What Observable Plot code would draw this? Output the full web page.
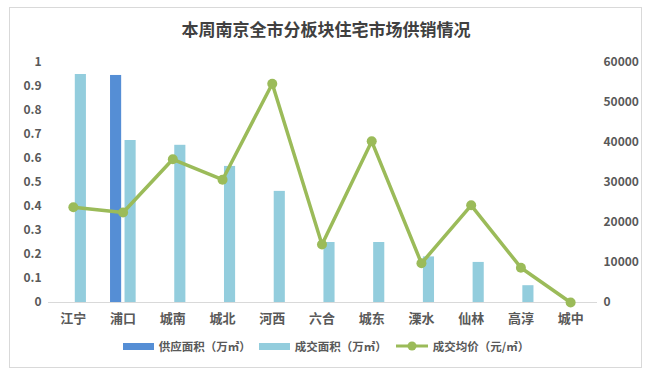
<!DOCTYPE html>
<html>
<head>
<meta charset="utf-8">
<script src="https://cdn.jsdelivr.net/npm/d3@7"></script>
<script src="https://cdn.jsdelivr.net/npm/@observablehq/plot@0.6"></script>
<style>
  html, body { margin: 0; padding: 0; background: #fff; }
  #wrap { position: relative; width: 652px; height: 378px; overflow: hidden;
    font-family: "Noto Sans CJK SC", "Noto Sans", sans-serif; }
  #frame { position: absolute; left: 9px; top: 7px; width: 633px; height: 361px;
    border: 1px solid #d9d9d9; box-sizing: border-box; }
  #title { position: absolute; left: 0; width: 652px; top: 17px; text-align: center;
    font-size: 17px; font-weight: bold; color: #404040; line-height: 24px; }
  #chart { position: absolute; left: 0; top: 0; }
  #legend { position: absolute; top: 338px; left: 0; width: 652px; display: flex;
    justify-content: center; align-items: center; font-size: 11.5px; font-weight: bold; color: #595959; }
  .item { display: flex; align-items: center; margin: 0 4px; }
  .sw { width: 31px; height: 7px; margin-right: 5px; }
</style>
</head>
<body>
<div id="wrap">
  <div id="frame"></div>
  <div id="chart"></div>
  <div id="title">本周南京全市分板块住宅市场供销情况</div>
  <div id="legend"></div>
</div>
<script>
const categories = ["江宁","浦口","城南","城北","河西","六合","城东","溧水","仙林","高淳","城中"];
const supplyArea = [0, 0.946, 0, 0, 0, 0, 0, 0, 0, 0, 0];
const dealArea = [0.95, 0.675, 0.655, 0.567, 0.463, 0.25, 0.25, 0.19, 0.167, 0.07, 0];
const avgPrice = [23800, 22500, 35800, 30700, 54700, 14500, 40300, 9800, 24300, 8700, 0];
const leftTicks = [0,0.1,0.2,0.3,0.4,0.5,0.6,0.7,0.8,0.9,1];
const rightTicks = [0,10000,20000,30000,40000,50000,60000];
const seriesNames = ["供应面积（万㎡）","成交面积（万㎡）","成交均价（元/㎡）"];
const colors = ["#558ED5","#93CDDD","#9BBB59"];

const priceMax = 60000;
const supplyData = categories.map((c,i)=>({c, v: supplyArea[i]})).filter(d=>d.v>0);
const dealData = categories.map((c,i)=>({c, v: dealArea[i]})).filter(d=>d.v>0);
const priceData = categories.map((c,i)=>({c, v: avgPrice[i]/priceMax}));

const W = 652, H = 330;
const plot = Plot.plot({
  width: W, height: H,
  marginTop: 62, marginBottom: 28, marginLeft: 48, marginRight: 57,
  style: { fontFamily: '"Noto Sans CJK SC", sans-serif', fontWeight: "bold", color: "#595959", background: "transparent" },
  x: { type: "band", domain: categories, padding: 0, round: false, label: null },
  y: { domain: [0, 1], label: null },
  marks: [
    Plot.axisY({ ticks: leftTicks, tickSize: 0, tickPadding: 7, fontSize: 12, label: null, tickFormat: d => String(d) }),
    Plot.axisY({ anchor: "right", ticks: rightTicks.map(v => v/priceMax), tickSize: 0, tickPadding: 8, fontSize: 12, label: null, textAnchor: "start",
      tickFormat: d => String(Math.round(d*priceMax)) }),
    Plot.axisX({ tickSize: 0, tickPadding: 11, fontSize: 13, label: null }),
    Plot.barY(supplyData, { x: "c", y: "v", fill: colors[0], insetLeft: 12.3, insetRight: 26.3 }),
    Plot.barY(dealData, { x: "c", y: "v", fill: colors[1], insetLeft: 26.8, insetRight: 11.8 }),
    Plot.ruleY([0], { stroke: "#d9d9d9", strokeWidth: 1.2 }),
    Plot.line(priceData, { x: "c", y: "v", stroke: colors[2], strokeWidth: 3.5, strokeLinejoin: "round" }),
    Plot.dot(priceData, { x: "c", y: "v", fill: colors[2], r: 5 })
  ]
});
document.getElementById("chart").appendChild(plot);

// extend baseline rule to span full plot frame
const rule = plot.querySelector('g[aria-label="rule"] line');
if (rule) { rule.setAttribute("x1", 48); rule.setAttribute("x2", 597); }

const legend = document.getElementById("legend");
seriesNames.forEach((name, i) => {
  const item = document.createElement("div");
  item.className = "item";
  if (i < 2) {
    const sw = document.createElement("div");
    sw.className = "sw"; sw.style.background = colors[i];
    item.appendChild(sw);
  } else {
    const svg = document.createElementNS("http://www.w3.org/2000/svg","svg");
    svg.setAttribute("width", 34); svg.setAttribute("height", 12);
    svg.style.marginRight = "4px";
    svg.innerHTML = `<line x1="1" x2="33" y1="6" y2="6" stroke="${colors[2]}" stroke-width="3"/><circle cx="17" cy="6" r="4.5" fill="${colors[2]}"/>`;
    item.appendChild(svg);
  }
  const t = document.createElement("span"); t.textContent = name;
  item.appendChild(t);
  legend.appendChild(item);
});
</script>
</body>
</html>
